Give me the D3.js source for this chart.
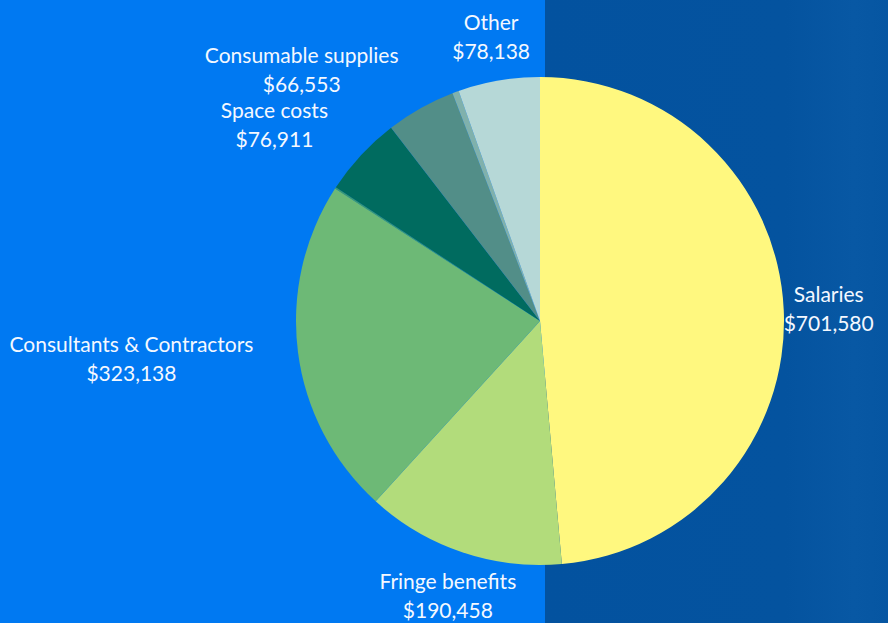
<!DOCTYPE html>
<html>
<head>
<meta charset="utf-8">
<script src="https://cdn.jsdelivr.net/npm/d3@7"></script>
<style>
  html, body { margin: 0; padding: 0; overflow: hidden; }
  svg { display: block; }
  .lbl { font-family: Lato, "Open Sans", sans-serif; font-size: 21px; fill: #f4f8ff; }
</style>
</head>
<body>
<div id="chart"></div>
<script>
// data (two thin slices are unlabeled)
const categories = ['Salaries', 'Fringe benefits', 'Consultants & Contractors', '', 'Space costs', 'Consumable supplies', '', 'Other'];
const values = [701580, 190458, 323138, 1400, 76911, 66553, 6200, 78138];
const colors = ['#fff87f', '#b2dc7b', '#6db976', '#3f9a6a', '#006b5f', '#528e88', '#80b1ac', '#b6d8d7'];

const width = 888, height = 623;
const cx = 540, cy = 321, radius = 244, labelR = 289;

const svg = d3.select('#chart').append('svg')
    .attr('width', width)
    .attr('height', height);

// background: bright blue panel on the left, darker blue on the right
const defs = svg.append('defs');
const grad = defs.append('linearGradient').attr('id', 'rightBg').attr('x1', 0).attr('x2', 1);
grad.append('stop').attr('offset', '0%').attr('stop-color', '#03529f');
grad.append('stop').attr('offset', '70%').attr('stop-color', '#04539f');
grad.append('stop').attr('offset', '90%').attr('stop-color', '#0858a4');
grad.append('stop').attr('offset', '100%').attr('stop-color', '#0656a2');

svg.append('rect').attr('width', width).attr('height', height).attr('fill', '#0079f2');
svg.append('rect').attr('x', 545).attr('width', width - 545).attr('height', height).attr('fill', 'url(#rightBg)');

const pie = d3.pie().sort(null).value(d => d.value);
const arc = d3.arc().innerRadius(0).outerRadius(radius);

const data = categories.map((c, i) => ({ name: c, value: values[i], color: colors[i] }));
const arcs = pie(data);

const g = svg.append('g').attr('transform', `translate(${cx},${cy})`);

g.selectAll('path')
    .data(arcs)
    .enter()
    .append('path')
    .attr('d', arc)
    .attr('fill', d => d.data.color);

// labels sit on a ring outside the pie; lines are centered,
// and blocks on the left side are pushed so their right edge meets the ring
const fmt = d3.format('$,');
const midAngle = d => (d.startAngle + d.endAngle) / 2;

const label = g.selectAll('text')
    .data(arcs.filter(d => d.data.name))
    .enter()
    .append('text')
    .attr('class', 'lbl')
    .attr('text-anchor', 'middle');

label.append('tspan').attr('x', 0).attr('dy', '-0.3em').text(d => d.data.name);
label.append('tspan').attr('x', 0).attr('dy', 29).text(d => fmt(d.data.value));

label.attr('transform', function(d) {
    const a = midAngle(d);
    let x = labelR * Math.sin(a);
    const y = -labelR * Math.cos(a);
    if (Math.sin(a) < -0.4) x -= this.getBBox().width / 2;
    return `translate(${x},${y})`;
});
</script>
</body>
</html>
